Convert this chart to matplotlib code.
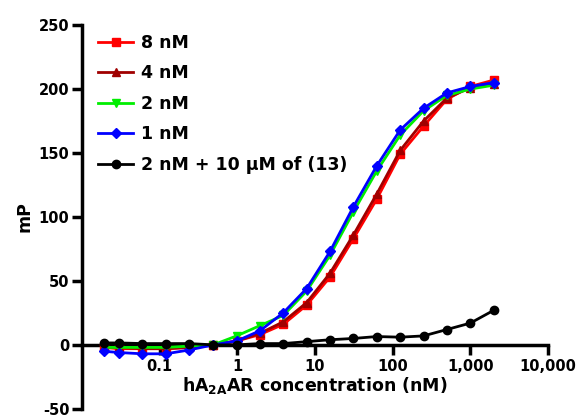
import numpy as np
import matplotlib
matplotlib.use("Agg")
import matplotlib.pyplot as plt
from matplotlib.ticker import FixedLocator, FixedFormatter, NullLocator

plt.rcParams['font.family'] = ['DejaVu Sans']
plt.rcParams['font.weight'] = 'bold'
plt.rcParams['axes.unicode_minus'] = False
plt.rcParams['mathtext.fontset'] = 'custom'
plt.rcParams['mathtext.rm'] = 'DejaVu Sans:bold'
plt.rcParams['mathtext.bf'] = 'DejaVu Sans:bold'

# receptor concentration (nM), 2-fold dilution series
conc = [0.019, 0.03, 0.06, 0.12, 0.24, 0.49, 0.98, 1.95, 3.9, 7.8,
        15.6, 31.25, 62.5, 125, 250, 500, 1000, 2000]

mp_8nM = [-2, -3, -3, -3, -2, 0, 3, 8, 16, 31, 53, 83, 114, 149, 171, 192, 202, 207]
mp_4nM = [-2, -2, -3, -3, -2, 0, 3, 9, 18, 33, 56, 86, 118, 152, 175, 193, 201, 204]
mp_2nM = [-2, -2, -2, -2, -1, 0, 7, 15, 23, 42, 70, 104, 136, 164, 183, 195, 200, 203]
mp_1nM = [-5, -6, -7, -7, -4, 0, 3, 11, 25, 44, 73, 108, 140, 168, 185, 197, 202, 205]
mp_block = [1.5, 1.5, 1, 1, 1, 0, 0, 1, 1, 2.5, 4, 5, 6.5, 6, 7, 12, 17, 27]

labels = ['8 nM', '4 nM', '2 nM', '1 nM', '2 nM + 10 \u03bcM of (13)']
colors = ['#ff0000', '#a00000', '#00ee00', '#0000ff', '#000000']
markers = ['s', '^', 'v', 'D', 'o']
msizes = [6, 6, 6, 5, 6]

x_ticks = [0.1, 1, 10, 100, 1000, 10000]
x_ticklabels = ['0.1', '1', '10', '100', '1,000', '10,000']
y_ticks = [-50, 0, 50, 100, 150, 200, 250]

fig = plt.figure(figsize=(5.8, 4.18), dpi=100)
ax = fig.add_axes([0.1414, 0.022, 0.8034, 0.918])

series = [mp_8nM, mp_4nM, mp_2nM, mp_1nM, mp_block]
for vals, lab, c, m, ms in zip(series, labels, colors, markers, msizes):
    ax.plot(conc, vals, color=c, marker=m, markersize=ms, linewidth=2,
            label=lab, clip_on=False, zorder=3)

ax.set_xscale('log')
ax.set_xlim(0.01, 10000)
ax.set_ylim(-50, 250)
ax.xaxis.set_major_locator(FixedLocator(x_ticks))
ax.xaxis.set_major_formatter(FixedFormatter(x_ticklabels))
ax.xaxis.set_minor_locator(NullLocator())
ax.set_yticks(y_ticks)

ax.spines['top'].set_visible(False)
ax.spines['right'].set_visible(False)
ax.spines['bottom'].set_position(('data', 0))
for s in ['left', 'bottom']:
    ax.spines[s].set_linewidth(2.5)
ax.tick_params(axis='both', width=2.5, length=7, labelsize=10.5)
ax.tick_params(axis='x', pad=3)
ax.tick_params(axis='y', pad=2)

ax.set_ylabel('mP', fontsize=12.5, fontweight='bold', labelpad=4)
ax.set_xlabel(r'hA$_{\mathbf{2A}}$AR concentration (nM)', fontsize=12.5,
              fontweight='bold')
ax.xaxis.set_label_coords(0.5, 0.088)

ax.legend(loc='upper left', bbox_to_anchor=(0.02, 0.995), frameon=False,
          fontsize=12.5, handlelength=2.0, handletextpad=0.45, labelspacing=0.72,
          borderaxespad=0)

fig.savefig('out.png', dpi=100)
